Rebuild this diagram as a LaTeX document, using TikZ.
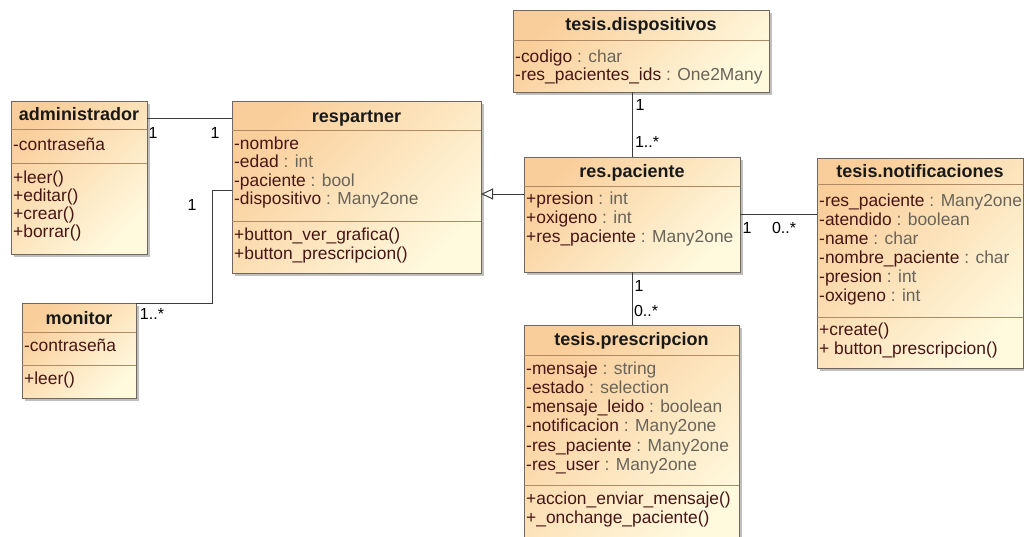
\documentclass[tikz,border=0pt]{standalone}
\usepackage{fontspec}
\setmainfont{Liberation Sans}
\usetikzlibrary{shadows,arrows.meta}

\definecolor{peach}{RGB}{250,206,154}
\definecolor{cream}{RGB}{255,249,222}
\definecolor{boxline}{RGB}{110,104,96}
\definecolor{sepcol}{RGB}{176,138,100}
\definecolor{mname}{RGB}{70,22,22}
\definecolor{mtype}{RGB}{105,100,90}
\definecolor{linkcol}{RGB}{60,60,60}

% member line: name part, then type part (\relax keeps the leading space of the type)
\newcommand\mb[2]{\textcolor{mname}{#1}\textcolor{mtype}{\relax#2}}
% left-aligned stack of lines (rows separated by \cr), baseline on the first row
\newcommand\mlist[1]{\vtop{\halign{##\hfil\cr#1\crcr}}}

\tikzset{
  classbox/.style={draw=boxline, line width=1pt, top color=peach, bottom color=cream,
    shading angle=45, anchor=north west, inner sep=0pt, outer sep=0pt,
    drop shadow={shadow xshift=3pt, shadow yshift=-3pt, opacity=0.45, fill=black!55}},
  sepline/.style={draw=sepcol, line width=0.9pt},
  ctitle/.style={anchor=base, inner sep=0pt, font=\bfseries\fontsize{18}{20}\selectfont, text=black!90},
  members/.style={anchor=north west, inner sep=0pt, text height=14pt,
    font=\fontsize{17.4}{19}\selectfont},
  assoc/.style={draw=linkcol, line width=1pt},
  gen/.style={assoc, -{Triangle[open, length=12pt, width=11pt, line width=1pt]}},
  mult/.style={inner sep=0pt, font=\fontsize{16}{18}\selectfont, text=black},
}

\begin{document}
\begin{tikzpicture}[x=1pt,y=1pt]
\fill[white] (0,0) rectangle (1024,-536);
\clip (0,0) rectangle (1024,-536);

% ---------- administrador
\node[classbox, minimum width=136pt, minimum height=153pt] (admin) at (11,-101) {};
\draw[sepline] (admin.west |- 0,-129) -- (admin.east |- 0,-129);
\draw[sepline] (admin.west |- 0,-163) -- (admin.east |- 0,-163);
\node[ctitle] (admin-t) at (79,-120.5) {administrador};
\node[members] (admin-a) at (13,-136) {\mlist{\mb{-contraseña}{}}};
\node[members, font=\fontsize{17.4}{18}\selectfont] (admin-m) at (13,-169)
  {\mlist{\mb{+leer()}{}\cr \mb{+editar()}{}\cr \mb{+crear()}{}\cr \mb{+borrar()}{}}};

% ---------- respartner
\node[classbox, minimum width=249pt, minimum height=172pt] (respartner) at (232,-101) {};
\draw[sepline] (respartner.west |- 0,-130) -- (respartner.east |- 0,-130);
\draw[sepline] (respartner.west |- 0,-221) -- (respartner.east |- 0,-221);
\node[ctitle] (respartner-t) at (356.5,-122) {respartner};
\node[members, font=\fontsize{17.4}{18.5}\selectfont] (respartner-a) at (234,-135)
  {\mlist{\mb{-nombre}{}\cr \mb{-edad}{ : int}\cr \mb{-paciente}{ : bool}\cr \mb{-dispositivo}{ : Many2one}}};
\node[members] (respartner-m) at (234,-226)
  {\mlist{\mb{+button\_ver\_grafica()}{}\cr \mb{+button\_prescripcion()}{}}};

% ---------- monitor
\node[classbox, minimum width=114pt, minimum height=95pt] (monitor) at (22,-303) {};
\draw[sepline] (monitor.west |- 0,-332) -- (monitor.east |- 0,-332);
\draw[sepline] (monitor.west |- 0,-365) -- (monitor.east |- 0,-365);
\node[ctitle] (monitor-t) at (79,-324) {monitor};
\node[members] (monitor-a) at (24,-337) {\mlist{\mb{-contraseña}{}}};
\node[members] (monitor-m) at (24,-370.5) {\mlist{\mb{+leer()}{}}};

% ---------- tesis.dispositivos
\node[classbox, minimum width=256pt, minimum height=82pt] (disp) at (513,-10) {};
\draw[sepline] (disp.west |- 0,-40) -- (disp.east |- 0,-40);
\node[ctitle] (disp-t) at (641,-30) {tesis.dispositivos};
\node[members, font=\fontsize{17.4}{18.5}\selectfont] (disp-a) at (515,-48)
  {\mlist{\mb{-codigo}{ : char}\cr \mb{-res\_pacientes\_ids}{ : One2Many}}};

% ---------- res.paciente
\node[classbox, minimum width=216pt, minimum height=115pt] (paciente) at (524,-157) {};
\draw[sepline] (paciente.west |- 0,-186) -- (paciente.east |- 0,-186);
\node[ctitle] (paciente-t) at (632,-177) {res.paciente};
\node[members] (paciente-a) at (526,-190.5)
  {\mlist{\mb{+presion}{ : int}\cr \mb{+oxigeno}{ : int}\cr \mb{+res\_paciente}{ : Many2one}}};

% ---------- tesis.notificaciones
\node[classbox, minimum width=206pt, minimum height=210pt] (notif) at (817,-158) {};
\draw[sepline] (notif.west |- 0,-184) -- (notif.east |- 0,-184);
\draw[sepline] (notif.west |- 0,-317) -- (notif.east |- 0,-317);
\node[ctitle] (notif-t) at (920,-177) {tesis.notificaciones};
\node[members] (notif-a) at (819,-192)
  {\mlist{\mb{-res\_paciente}{ : Many2one}\cr \mb{-atendido}{ : boolean}\cr \mb{-name}{ : char}\cr
   \mb{-nombre\_paciente}{ : char}\cr \mb{-presion}{ : int}\cr \mb{-oxigeno}{ : int}}};
\node[members] (notif-m) at (819,-321)
  {\mlist{\mb{+create()}{}\cr \mb{+ button\_prescripcion()}{}}};

% ---------- tesis.prescripcion
\node[classbox, minimum width=215pt, minimum height=225pt] (presc) at (524,-325) {};
\draw[sepline] (presc.west |- 0,-355) -- (presc.east |- 0,-355);
\draw[sepline] (presc.west |- 0,-485) -- (presc.east |- 0,-485);
\node[ctitle] (presc-t) at (631.5,-345.5) {tesis.prescripcion};
\node[members, font=\fontsize{17.4}{19.2}\selectfont] (presc-a) at (526,-360)
  {\mlist{\mb{-mensaje}{ : string}\cr \mb{-estado}{ : selection}\cr \mb{-mensaje\_leido}{ : boolean}\cr
   \mb{-notificacion}{ : Many2one}\cr \mb{-res\_paciente}{ : Many2one}\cr \mb{-res\_user}{ : Many2one}}};
\node[members] (presc-m) at (526,-490.5)
  {\mlist{\mb{+accion\_enviar\_mensaje()}{}\cr \mb{+\_onchange\_paciente()}{}}};

% ---------- connectors
\draw[assoc] (admin.east |- 0,-118) -- (respartner.west |- 0,-118);
\coordinate (mbend) at (212,-190);
\draw[assoc] (monitor.north east) -| (mbend) -- (mbend -| respartner.west);
\draw[assoc] (paciente.north) -- (paciente.north |- disp.south);
\draw[assoc] (paciente.south) -- (paciente.south |- presc.north);
\draw[assoc] (paciente.east |- 0,-214) -- (notif.west |- 0,-214);
\draw[gen] (paciente.west |- 0,-194) -- (respartner.east |- 0,-194);

% ---------- multiplicities
\node[mult] (m1) at (153,-133) {1};
\node[mult] (m2) at (215,-133) {1};
\node[mult] (m3) at (192,-205) {1};
\node[mult] (m4) at (152,-314) {1..*};
\node[mult] (m5) at (640,-105) {1};
\node[mult] (m6) at (647,-142) {1..*};
\node[mult] (m7) at (747,-228) {1};
\node[mult] (m8) at (784,-228) {0..*};
\node[mult] (m9) at (639,-286) {1};
\node[mult] (m10) at (646,-311) {0..*};
\end{tikzpicture}
\end{document}
